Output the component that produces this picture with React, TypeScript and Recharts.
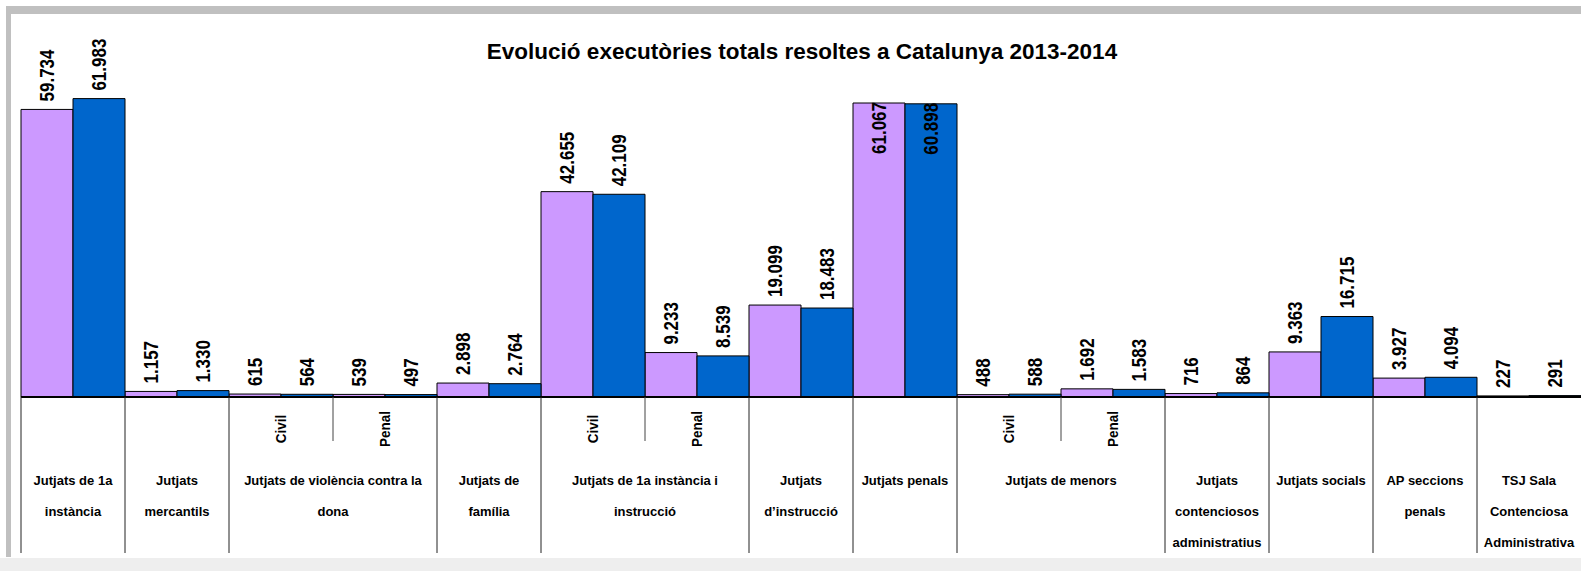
import { BarChart, Bar, XAxis, YAxis, LabelList } from 'recharts';

const groupLabels: string[][] = [
  ['Jutjats de 1a', 'instància'],
  ['Jutjats', 'mercantils'],
  ['Jutjats de violència contra la', 'dona'],
  ['Jutjats de', 'família'],
  ['Jutjats de 1a instància i', 'instrucció'],
  ['Jutjats', 'd’instrucció'],
  ['Jutjats penals'],
  ['Jutjats de menors'],
  ['Jutjats', 'contenciosos', 'administratius'],
  ['Jutjats socials'],
  ['AP seccions', 'penals'],
  ['TSJ Sala', 'Contenciosa', 'Administrativa'],
];

const groupSubs: string[][] = [
  [''],
  [''],
  ['Civil', 'Penal'],
  [''],
  ['Civil', 'Penal'],
  [''],
  [''],
  ['Civil', 'Penal'],
  [''],
  [''],
  [''],
  [''],
];

const values2013 = [59734, 1157, 615, 539, 2898, 42655, 9233, 19099, 61067, 488, 1692, 716, 9363, 3927, 227];
const values2014 = [61983, 1330, 564, 497, 2764, 42109, 8539, 18483, 60898, 588, 1583, 864, 16715, 4094, 291];

const insideLabelGroups = ['Jutjats penals'];

type Row = {
  key: string;
  group: number;
  sub: number;
  subCount: number;
  subLabel: string;
  v2013: number;
  v2014: number;
};

const data: Row[] = [];
groupSubs.forEach((subs, g) => {
  subs.forEach((s, i) => {
    const idx = data.length;
    data.push({
      key: `${g}-${i}`,
      group: g,
      sub: i,
      subCount: subs.length,
      subLabel: s,
      v2013: values2013[idx],
      v2014: values2014[idx],
    });
  });
});

const W = 1581;
const H = 571;
const LEFT = 21;
const BAND = (W - LEFT) / data.length;
const FONT = "Arial, 'Liberation Sans', sans-serif";

const fmt = (v: number) => v.toString().replace(/\B(?=(\d{3})+(?!\d))/g, '.');

const GroupTick = (props: any) => {
  const { x, y, payload } = props;
  const row = data[payload.index];
  if (!row) return null;
  const left = x - BAND / 2;
  const parts: any[] = [];
  if (row.sub === 0) {
    parts.push(<line key="sep" x1={left} x2={left} y1={y} y2={y + 156} stroke="#222" strokeWidth={1} />);
    const cx = left + (row.subCount * BAND) / 2;
    groupLabels[row.group].forEach((ln, i) => {
      parts.push(
        <text
          key={`l${i}`}
          x={cx}
          y={y + 83 + i * 31}
          textAnchor="middle"
          dominantBaseline="central"
          fontFamily={FONT}
          fontWeight="bold"
          fontSize={13}
          fill="#000"
        >
          {ln}
        </text>
      );
    });
  } else {
    parts.push(<line key="sub" x1={left} x2={left} y1={y} y2={y + 44} stroke="#444" strokeWidth={1} />);
  }
  if (row.subLabel) {
    parts.push(
      <text
        key="s"
        x={0}
        y={0}
        transform={`translate(${x} ${y + 32}) rotate(-90) scale(1 1.1)`}
        textAnchor="middle"
        dominantBaseline="central"
        fontFamily={FONT}
        fontWeight="bold"
        fontSize={13.5}
        fill="#000"
      >
        {row.subLabel}
      </text>
    );
  }
  return <g>{parts}</g>;
};

const makeLabel = (props: any) => {
  const { x, y, width, value, index } = props;
  const row = data[index];
  const cx = x + width / 2;
  const inside = row && insideLabelGroups.includes(groupLabels[row.group].join(' '));
  const ty = inside ? y - 1 : y - 8;
  return (
    <text
      x={0}
      y={0}
      transform={`translate(${cx} ${ty}) rotate(-90) scale(1 1.15)`}
      textAnchor={inside ? 'end' : 'start'}
      dominantBaseline="central"
      fontFamily={FONT}
      fontWeight="bold"
      fontSize={17}
      fill="#000"
    >
      {fmt(value)}
    </text>
  );
};

export default function App() {
  return (
    <div style={{ position: 'absolute', left: 0, top: 0, width: W, height: H, background: '#fff', overflow: 'hidden' }}>
      <div style={{ position: 'absolute', left: 6, top: 6, width: W - 6, height: 551, borderTop: '8px solid #C0C0C0', borderLeft: '5px solid #C0C0C0', boxSizing: 'border-box' }} />
      <div style={{ position: 'absolute', left: 0, top: 558, width: W, height: H - 558, background: '#EEEEEE' }} />
      <div
        style={{
          position: 'absolute',
          left: 0,
          width: 1604,
          top: 38,
          textAlign: 'center',
          fontFamily: FONT,
          fontWeight: 'bold',
          fontSize: 22.5,
          lineHeight: '28px',
        }}
      >
        Evolució executòries totals resoltes a Catalunya 2013-2014
      </div>
      <div style={{ position: 'absolute', left: 0, top: 0 }}>
        <BarChart
          width={W}
          height={H}
          data={data}
          margin={{ top: 60, right: 0, bottom: 0, left: LEFT }}
          barCategoryGap={0}
          barGap={0}
        >
          <XAxis
            dataKey="key"
            interval={0}
            height={174}
            tickSize={0}
            tickMargin={0}
            tickLine={false}
            axisLine={{ stroke: '#000', strokeWidth: 2 }}
            tick={<GroupTick />}
          />
          <YAxis hide domain={[0, 70000]} />
          <Bar dataKey="v2013" fill="#CC99FF" stroke="#000" strokeWidth={1} isAnimationActive={false}>
            <LabelList dataKey="v2013" content={makeLabel} />
          </Bar>
          <Bar dataKey="v2014" fill="#0066CC" stroke="#000" strokeWidth={1} isAnimationActive={false}>
            <LabelList dataKey="v2014" content={makeLabel} />
          </Bar>
        </BarChart>
      </div>
    </div>
  );
}
